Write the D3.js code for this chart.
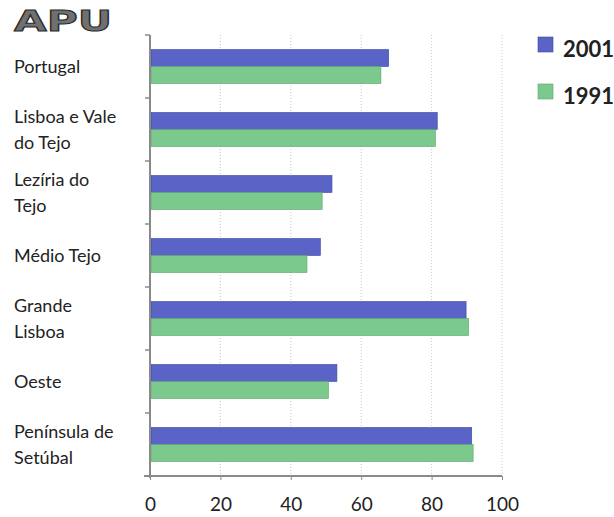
<!DOCTYPE html>
<html>
<head>
<meta charset="utf-8">
<script src="https://cdn.jsdelivr.net/npm/d3@7"></script>
<style>
  body { margin: 0; background: #fff; }
  text { font-family: Lato, "Open Sans", sans-serif; fill: #222; }
</style>
</head>
<body>
<svg id="chart" width="614" height="517"></svg>
<script>
var regions = ["Portugal", "Lisboa e Vale do Tejo", "Lezíria do Tejo", "Médio Tejo",
               "Grande Lisboa", "Oeste", "Península de Setúbal"];
// label lines as printed
var regionLines = [["Portugal"], ["Lisboa e Vale", "do Tejo"], ["Lezíria do", "Tejo"], ["Médio Tejo"],
                   ["Grande", "Lisboa"], ["Oeste"], ["Península de", "Setúbal"]];
var years = ["2001", "1991"];
var values2001 = [67.8, 81.6, 51.7, 48.4, 89.8, 53.1, 91.4];
var values1991 = [65.6, 81.1, 48.9, 44.6, 90.5, 50.7, 91.8];
var xTicks = [0, 20, 40, 60, 80, 100];

var colors = {"2001": "#5a64c6", "1991": "#7cc98e"};
var strokes = {"2001": "#3d45a0", "1991": "#5aa56c"};

var svg = d3.select("#chart");

// note: "top" is taken by window.top, so use plot* names
var plotLeft = 150, plotRight = 502, plotTop = 35, plotBottom = 476;

var x = d3.scaleLinear().domain([0, 100]).range([plotLeft, plotRight]);
var y = d3.scaleBand().domain(regions).range([plotTop, plotBottom]).paddingInner(0.46).paddingOuter(0.23);
var ySub = d3.scaleBand().domain(years).range([0, y.bandwidth()]);

// title
svg.append("text")
    .attr("x", 14).attr("y", 31)
    .attr("textLength", 98).attr("lengthAdjust", "spacingAndGlyphs")
    .style("font-family", "'DejaVu Sans', sans-serif")
    .style("font-weight", "bold").style("font-size", "28px")
    .style("fill", "#707070").style("stroke", "#2a2a2a").style("stroke-width", 1)
    .text("APU");

// dotted gridlines
svg.append("g").selectAll("line")
    .data(xTicks.slice(1))
    .enter().append("line")
    .attr("x1", function(d) { return x(d); })
    .attr("x2", function(d) { return x(d); })
    .attr("y1", plotTop).attr("y2", plotBottom)
    .attr("stroke", "#c8c8c8").attr("stroke-width", 1)
    .attr("stroke-dasharray", "1,2");

// bars
var rows = regions.map(function(r, i) {
    return {region: r, vals: [{year: "2001", v: values2001[i]}, {year: "1991", v: values1991[i]}]};
});

var group = svg.append("g").selectAll("g")
    .data(rows)
    .enter().append("g")
    .attr("transform", function(d) { return "translate(0," + y(d.region) + ")"; });

group.selectAll("rect")
    .data(function(d) { return d.vals; })
    .enter().append("rect")
    .attr("x", x(0) + 1)
    .attr("y", function(d) { return ySub(d.year); })
    .attr("width", function(d) { return x(d.v) - x(0) - 1; })
    .attr("height", ySub.bandwidth())
    .attr("fill", function(d) { return colors[d.year]; })
    .attr("stroke", function(d) { return strokes[d.year]; })
    .attr("stroke-width", 0.6);

// x axis
var xAxis = svg.append("g")
    .attr("transform", "translate(0," + plotBottom + ")")
    .call(d3.axisBottom(x).tickValues(xTicks).tickSize(4).tickPadding(18));
xAxis.select(".domain").attr("stroke", "#8a8a8a").attr("stroke-width", 2)
    .attr("d", "M" + (plotLeft - 6) + ",0H" + plotRight);
xAxis.selectAll(".tick line").attr("stroke", "#8a8a8a");
xAxis.selectAll(".tick text")
    .style("font-family", "Lato, sans-serif").style("font-size", "19px").style("fill", "#222");

// y axis line with boundary ticks
svg.append("line")
    .attr("x1", plotLeft).attr("x2", plotLeft)
    .attr("y1", plotTop).attr("y2", plotBottom + 2)
    .attr("stroke", "#8a8a8a").attr("stroke-width", 2);
svg.append("g").selectAll("line")
    .data(d3.range(regions.length + 1))
    .enter().append("line")
    .attr("x1", plotLeft - 5).attr("x2", plotLeft)
    .attr("y1", function(i) { return plotTop + i * y.step(); })
    .attr("y2", function(i) { return plotTop + i * y.step(); })
    .attr("stroke", "#8a8a8a").attr("stroke-width", 1.5);

// category labels
var labels = svg.append("g").selectAll("text")
    .data(regions)
    .enter().append("text")
    .attr("x", 14)
    .attr("y", function(d) { return y(d) + y.bandwidth() / 2 + 6; })
    .style("font-size", "18px");

labels.each(function(d, i) {
    var lines = regionLines[i];
    var t = d3.select(this);
    lines.forEach(function(line, j) {
        t.append("tspan")
            .attr("x", 14)
            .attr("dy", j == 0 ? (lines.length == 1 ? 0 : -13) : 26)
            .text(line);
    });
});

// legend
var legend = svg.append("g").selectAll("g")
    .data(years)
    .enter().append("g")
    .attr("transform", function(d, i) { return "translate(538," + (37 + i * 47) + ")"; });

legend.append("rect")
    .attr("width", 15).attr("height", 15)
    .attr("fill", function(d) { return colors[d]; })
    .attr("stroke", function(d) { return strokes[d]; })
    .attr("stroke-width", 0.6);

legend.append("text")
    .attr("x", 25).attr("y", 20)
    .style("font-size", "22px").style("font-weight", "bold")
    .text(function(d) { return d; });
</script>
</body>
</html>
